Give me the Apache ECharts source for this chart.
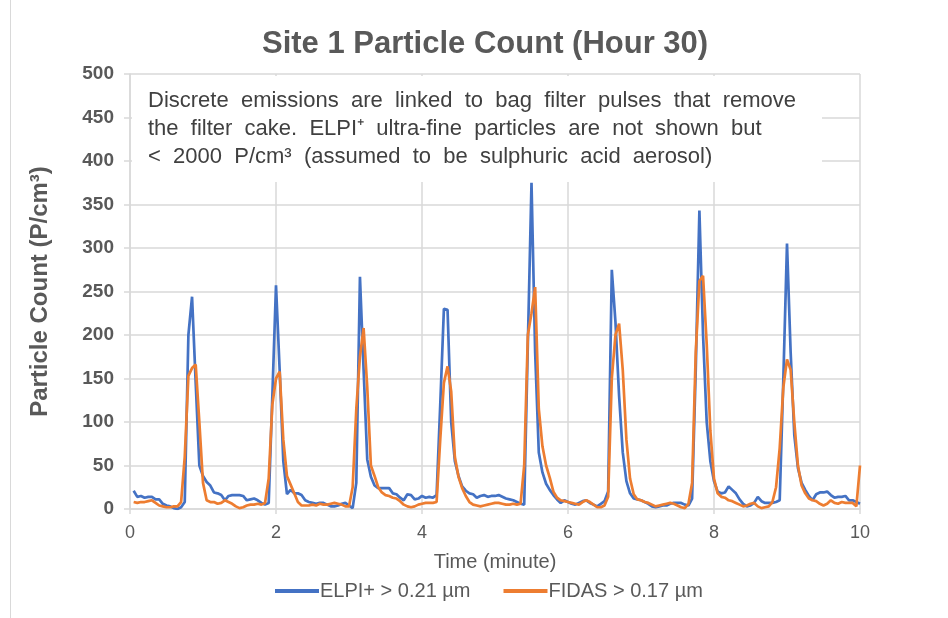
<!DOCTYPE html>
<html><head><meta charset="utf-8">
<script src="https://cdn.jsdelivr.net/npm/echarts@6/dist/echarts.min.js"></script>
<style>html,body{margin:0;padding:0;background:#fff}#c{width:948px;height:618px}</style>
</head><body><div id="c"></div>
<script>
// Sampling: one reading every 0.05 minute, starting at 0.05 min
const firstTime = 0.05;
const timeStep = 0.05;

const elpiLabel = 'ELPI+ > 0.21 µm';
const fidasLabel = 'FIDAS > 0.17 µm';

const elpi = [
  21,14,15,13,14,14,11,11,6,4,
  3,1,0,2,8,200,244,145,50,38,
  31,27,19,18,16,10,15,16,16,16,
  15,10,11,12,10,7,5,7,130,257,
  160,55,17,22,18,18,16,10,8,7,
  6,7,7,5,3,3,4,6,7,4,
  1,30,267,160,57,37,27,24,24,24,
  24,18,17,13,10,17,16,11,12,15,
  13,14,13,16,120,230,229,100,55,38,
  26,21,18,17,13,15,16,14,15,15,
  16,14,12,11,10,8,6,5,190,375,
  180,65,42,29,22,16,11,7,10,8,
  6,5,7,9,10,7,5,3,6,9,
  20,275,215,130,65,32,18,12,11,10,
  8,6,3,2,3,4,4,6,7,7,
  7,5,4,12,160,343,200,100,55,32,
  20,18,19,26,22,18,11,6,3,4,
  7,14,9,7,7,7,8,10,150,305,
  180,85,47,30,22,15,10,17,19,19,
  20,16,13,14,14,15,10,10,8,6
];

const fidas = [
  8,7,8,8,9,10,7,4,3,2,
  2,3,3,8,60,153,162,166,100,30,
  10,8,8,6,7,10,8,6,3,1,
  2,4,5,5,6,5,7,35,120,150,
  158,80,38,28,18,8,4,4,4,5,
  4,6,5,5,6,7,6,5,3,3,
  25,115,175,208,140,50,38,25,19,16,
  15,13,12,9,5,3,2,3,5,6,
  7,7,7,8,80,145,164,135,60,37,
  24,15,8,5,4,3,4,5,6,7,
  7,6,5,5,6,5,6,50,200,225,
  255,115,72,50,36,20,13,10,9,8,
  7,6,5,8,10,8,5,2,2,4,
  14,150,200,213,160,80,35,17,11,10,
  8,7,5,3,4,5,6,7,6,4,
  2,1,6,30,180,262,268,190,90,35,
  18,14,13,10,9,7,5,3,4,6,
  7,3,1,2,3,8,25,70,140,172,
  160,100,50,27,18,12,10,9,6,4,
  6,10,7,6,8,7,7,7,3,50
];

const noteLines = [
  'Discrete  emissions  are  linked  to  bag  filter  pulses  that  remove',
  'the  filter  cake.  ELPI\u207A  ultra-fine  particles  are  not  shown  but',
  '<  2000  P/cm\u00B3  (assumed  to  be  sulphuric  acid  aerosol)'
];

function pairs(arr){ return arr.map((v,i)=>[+(firstTime + i*timeStep).toFixed(2), v]); }

const FONT = '"Liberation Sans", Arial, sans-serif';
const chart = echarts.init(document.getElementById('c'), null, {renderer:'canvas'});
chart.setOption({
  backgroundColor:'#ffffff',
  animation:false,
  title:{
    text:'Site 1 Particle Count (Hour 30)',
    left:257, top:24,
    textStyle:{fontFamily:FONT, fontSize:31, fontWeight:'bold', color:'#595959'}
  },
  grid:{left:130, right:88, top:74, bottom:109, containLabel:false},
  legend:{
    bottom:12, left:270, itemWidth:44, itemHeight:4, itemGap:33,
    icon:'rect',
    textStyle:{fontFamily:FONT, fontSize:20, color:'#595959', padding:[0,0,0,-4]},
    data:[elpiLabel, fidasLabel]
  },
  xAxis:{
    type:'value', min:0, max:10, interval:2,
    name:'Time (minute)', nameLocation:'middle', nameGap:43,
    nameTextStyle:{fontFamily:FONT, fontSize:20, color:'#595959'},
    axisLine:{show:true, lineStyle:{color:'#d9d9d9', width:1.5}},
    axisTick:{show:true, length:5, lineStyle:{color:'#d9d9d9', width:1.5}},
    axisLabel:{fontFamily:FONT, fontSize:18, color:'#595959', margin:15},
    splitLine:{show:true, lineStyle:{color:'#d9d9d9', width:1.5}}
  },
  yAxis:{
    type:'value', min:0, max:500, interval:50,
    name:'Particle Count (P/cm\u00B3)', nameLocation:'middle', nameGap:78, nameRotate:90,
    nameTextStyle:{fontFamily:FONT, fontSize:24, fontWeight:'bold', color:'#595959'},
    axisLine:{show:true, lineStyle:{color:'#d9d9d9', width:1.5}},
    axisTick:{show:true, length:6, lineStyle:{color:'#d9d9d9', width:1.5}},
    axisLabel:{fontFamily:FONT, fontSize:19, fontWeight:'bold', color:'#595959', margin:16},
    splitLine:{show:true, lineStyle:{color:'#d9d9d9', width:1.5}}
  },
  series:[
    {name:elpiLabel, type:'line', data:pairs(elpi), showSymbol:false, symbol:'none',
     lineStyle:{color:'#4472C4', width:2.7}, itemStyle:{color:'#4472C4'}, z:2},
    {name:fidasLabel, type:'line', data:pairs(fidas), showSymbol:false, symbol:'none',
     lineStyle:{color:'#ED7D31', width:2.7}, itemStyle:{color:'#ED7D31'}, z:3}
  ],
  graphic:[
    {type:'line', shape:{x1:10.5, y1:0, x2:10.5, y2:618}, style:{stroke:'#d9d9d9', lineWidth:1}, z:1},
    {type:'rect', shape:{x:132, y:76, width:690, height:106}, style:{fill:'#ffffff'}, z:50},
    {type:'text', left:148, top:87, z:51,
     style:{text:noteLines.join('\n'), font:'22px ' + FONT, fill:'#404040', lineHeight:28}}
  ]
});
</script>
</body></html>
